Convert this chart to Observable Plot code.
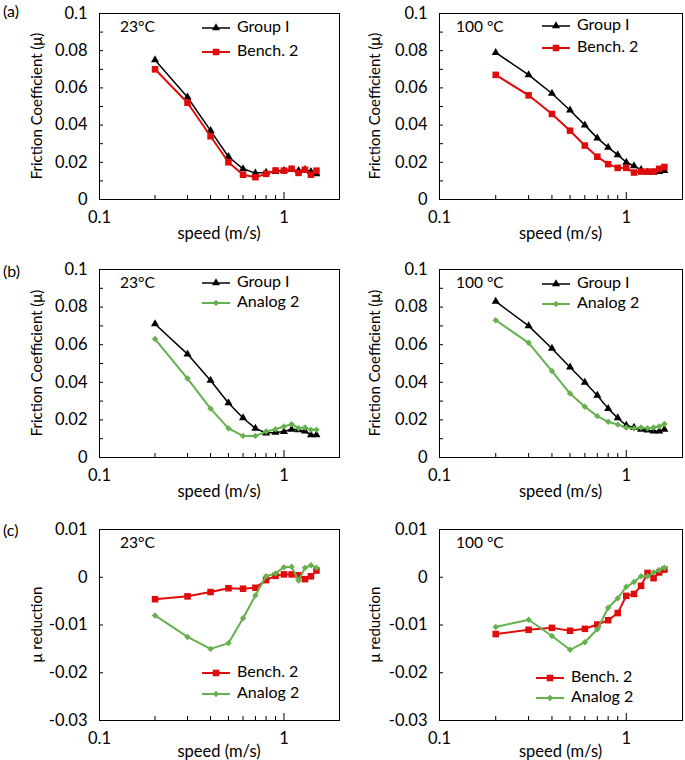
<!DOCTYPE html>
<html><head><meta charset="utf-8">
<script src="https://cdn.jsdelivr.net/npm/d3@7"></script>
<script src="https://cdn.jsdelivr.net/npm/@observablehq/plot@0.6"></script>
<style>
body{margin:0;background:#fff;font-family:Lato,sans-serif;}
#wrap{position:relative;width:685px;height:760px;overflow:hidden;}
.panel{position:absolute;}
.tag{position:absolute;font-size:16px;color:#000;font-family:Lato,sans-serif;}
</style></head><body><div id="wrap"></div>
<script>
// ---- data ----
const speedsL = [0.2,0.3,0.4,0.5,0.6,0.7,0.8,0.9,1.0,1.1,1.2,1.3,1.4,1.5];
const speedsR = [0.2,0.3,0.4,0.5,0.6,0.7,0.8,0.9,1.0,1.1,1.2,1.3,1.4,1.5,1.6];

const a23Group  = [0.075,0.055,0.037,0.023,0.0165,0.0142,0.0145,0.015,0.0155,0.016,0.0155,0.016,0.015,0.0137];
const a23Bench  = [0.070,0.052,0.034,0.020,0.0133,0.012,0.0138,0.0156,0.0155,0.0165,0.0143,0.016,0.0133,0.0155];
const a100Group = [0.079,0.067,0.057,0.048,0.040,0.033,0.028,0.024,0.020,0.018,0.016,0.0145,0.0145,0.015,0.0155];
const a100Bench = [0.067,0.056,0.046,0.037,0.029,0.023,0.019,0.017,0.017,0.0145,0.015,0.015,0.015,0.0165,0.0175];

const b23Group   = [0.071,0.055,0.041,0.029,0.021,0.0155,0.013,0.0133,0.0138,0.015,0.0147,0.014,0.012,0.012];
const b23Analog  = [0.063,0.042,0.026,0.0155,0.0115,0.0115,0.0138,0.015,0.0165,0.0177,0.0156,0.016,0.0147,0.0147];
const b100Group  = [0.083,0.070,0.058,0.048,0.040,0.033,0.026,0.021,0.017,0.016,0.015,0.0145,0.014,0.014,0.015];
const b100Analog = [0.073,0.061,0.046,0.034,0.027,0.022,0.019,0.0175,0.016,0.0155,0.016,0.0155,0.016,0.0165,0.0178];

const c23Bench   = [-0.0046,-0.0040,-0.0031,-0.0023,-0.0024,-0.0022,-0.0006,0.0003,0.0006,0.0006,0.0004,-0.0004,0.0002,0.0014];
const c23Analog  = [-0.0080,-0.0125,-0.0150,-0.0138,-0.0086,-0.0038,0.0002,0.0008,0.0021,0.0022,-0.0007,0.0020,0.0025,0.0020];
const c100Bench  = [-0.0119,-0.0110,-0.0106,-0.0112,-0.0108,-0.0099,-0.0090,-0.0075,-0.0039,-0.0035,-0.0018,0.0009,-0.0002,0.0010,0.0016];
const c100Analog = [-0.0104,-0.0089,-0.0123,-0.0152,-0.0136,-0.0109,-0.0064,-0.0044,-0.0020,-0.0010,0.0002,0.0002,0.0010,0.0015,0.0020];

const xTickLabels = [0.1, 1];
const xMinorTicks = [0.2,0.3,0.4,0.5,0.6,0.7,0.8,0.9];
const yTicksMu = [0, 0.02, 0.04, 0.06, 0.08, 0.1];
const yMinorMu = [0.01,0.02,0.03,0.04,0.05,0.06,0.07,0.08,0.09];
const yTicksRed = [-0.03, -0.02, -0.01, 0, 0.01];
const yMinorRed = [-0.02, -0.01, 0];

const panelTags = ["(a)", "(b)", "(c)"];
const tempLabels = ["23°C", "100 °C"];
const yTitles = ["Friction Coefficient (μ)", "μ reduction"];
const xTitle = "speed (m/s)";

// ---- styles ----
const FONT = "Lato, sans-serif";
const S = {
  group:  {name: "Group I",  color: "#000000", symbol: "triangle", r: 3.0, width: 1.5},
  bench:  {name: "Bench. 2", color: "#e00c0c", symbol: "square",   r: 3.7, width: 2},
  analog: {name: "Analog 2", color: "#66b04e", symbol: "diamond2", r: 2.9, width: 2}
};

const cols = [{left: 0, width: 340, marginLeft: 99, marginRight: 1, ylab: 38},
              {left: 340, width: 345, marginLeft: 99, marginRight: 3, ylab: 36}];
const rows = [{top: 0, height: 250, marginTop: 13, marginBottom: 51, xt: 36},
              {top: 256, height: 250, marginTop: 13, marginBottom: 49, xt: 36},
              {top: 516, height: 244, marginTop: 13, marginBottom: 40, xt: 33}];

const fmt = d => String(+d.toFixed(3));

function panel(ri, ci, speeds, series, kind, legendY) {
  const c = cols[ci], r = rows[ri];
  const isRed = kind === "red";
  const marks = [
    Plot.axisX({ticks: xMinorTicks, tickSize: 4, dy: -4, tickFormat: () => "", label: null}),
    Plot.axisX({ticks: xTickLabels, tickSize: 7, dy: -7, tickFormat: () => "", label: null}),
    Plot.axisX({ticks: xTickLabels, tickSize: 0, tickPadding: 12, tickFormat: fmt, label: null, fontSize: 16.5}),
    Plot.axisY({ticks: isRed ? yMinorRed : yMinorMu, tickSize: 4, dx: 4, tickFormat: () => "", label: null}),
    Plot.axisY({ticks: isRed ? yTicksRed : yTicksMu, tickSize: 0, tickPadding: 12, tickFormat: fmt, label: null, fontSize: 16.5})
  ];
  for (const s of series) {
    const d = speeds.map((x, i) => ({x, y: s.values[i]}));
    marks.push(Plot.line(d, {x: "x", y: "y", stroke: s.color, strokeWidth: s.width}));
    marks.push(Plot.dot(d, {x: "x", y: "y", symbol: s.symbol, r: s.r, fill: s.color, stroke: "none"}));
  }
  marks.push(Plot.frame({stroke: "#000", strokeWidth: 1}));
  const chart = Plot.plot({
    width: c.width, height: r.height,
    marginLeft: c.marginLeft, marginRight: c.marginRight, marginTop: r.marginTop, marginBottom: r.marginBottom,
    x: {type: "log", domain: [0.1, 2], label: null},
    y: {domain: isRed ? [-0.03, 0.01] : [0, 0.1], label: null},
    style: {fontFamily: FONT, fontSize: "16px", color: "#000", background: "transparent", overflow: "visible"},
    marks
  });
  const svg = d3.select(chart);
  const fl = c.marginLeft, ft = r.marginTop, fr = c.width - c.marginRight, fb = r.height - r.marginBottom;
  const g = svg.append("g").attr("font-family", FONT).attr("fill", "#000");
  // y title
  g.append("text").attr("transform", `translate(${c.ylab},${(ft + fb) / 2}) rotate(-90)`)
    .attr("text-anchor", "middle").attr("dominant-baseline", "middle").attr("font-size", 15)
    .text(isRed ? yTitles[1] : yTitles[0]);
  // x title
  g.append("text").attr("x", (fl + fr) / 2).attr("y", fb + r.xt).attr("text-anchor", "middle")
    .attr("dominant-baseline", "middle").attr("font-size", 16.5).text(xTitle);
  // temperature label
  g.append("text").attr("x", fl + (ci ? 17 : 21)).attr("y", ft + 15).attr("dominant-baseline", "middle")
    .attr("text-anchor", "start").attr("font-size", 15.5).text(tempLabels[ci]);
  // legend
  series.forEach((s, i) => {
    const y = ft + legendY[i];
    const x0 = fl + (ci && isRed ? 97 : 103), x1 = x0 + 28;
    g.append("line").attr("x1", x0).attr("x2", x1).attr("y1", y).attr("y2", y)
      .attr("stroke", s.color).attr("stroke-width", s.width);
    const sym = {triangle: d3.symbolTriangle, square: d3.symbolSquare, diamond2: d3.symbolDiamond2}[s.symbol];
    g.append("path").attr("d", d3.symbol(sym, s.r * s.r * Math.PI)())
      .attr("transform", `translate(${(x0 + x1) / 2},${y})`).attr("fill", s.color);
    g.append("text").attr("x", x1 + 7).attr("y", y).attr("dominant-baseline", "middle")
      .attr("text-anchor", "start").attr("font-size", 16).text(s.name);
  });
  const div = document.createElement("div");
  div.className = "panel";
  div.style.left = c.left + "px";
  div.style.top = r.top + "px";
  div.appendChild(chart);
  document.getElementById("wrap").appendChild(div);
}

const mk = (st, values) => ({...st, values});
panel(0, 0, speedsL, [mk(S.group, a23Group), mk(S.bench, a23Bench)], "mu", [15, 39]);
panel(0, 1, speedsR, [mk(S.group, a100Group), mk(S.bench, a100Bench)], "mu", [13, 35]);
panel(1, 0, speedsL, [mk(S.group, b23Group), mk(S.analog, b23Analog)], "mu", [14, 34]);
panel(1, 1, speedsR, [mk(S.group, b100Group), mk(S.analog, b100Analog)], "mu", [15, 35]);
panel(2, 0, speedsL, [mk(S.bench, c23Bench), mk(S.analog, c23Analog)], "red", [144, 165]);
panel(2, 1, speedsR, [mk(S.bench, c100Bench), mk(S.analog, c100Analog)], "red", [149, 169]);

// panel tags
const tagTops = [12, 272, 531];
panelTags.forEach((t, i) => {
  const el = document.createElement("div");
  el.className = "tag";
  el.textContent = t;
  el.style.left = "3px";
  el.style.top = (tagTops[i] - 11) + "px";
  document.getElementById("wrap").appendChild(el);
});
</script></body></html>
